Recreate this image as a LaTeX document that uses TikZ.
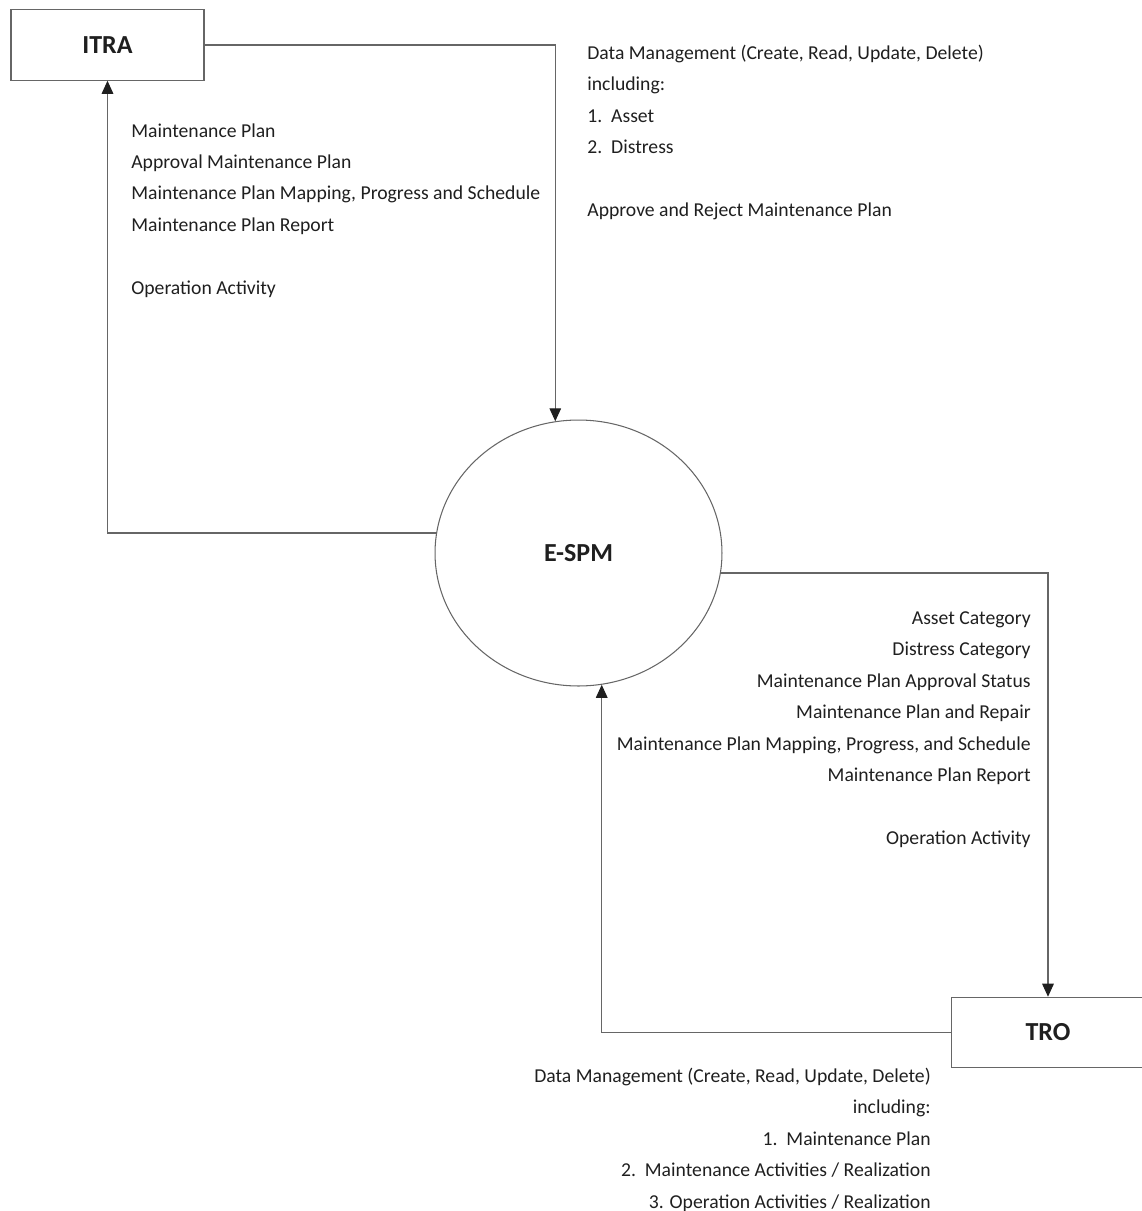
\documentclass[tikz,border=0pt]{standalone}
\usepackage{fontspec}
\setmainfont{Carlito}
\usetikzlibrary{positioning,shapes.geometric,arrows.meta}
\definecolor{linegray}{gray}{0.4}
\definecolor{txtgray}{gray}{0.12}

\begin{document}
\begin{tikzpicture}[x=0.02cm,y=-0.02cm,
	entity/.style={draw=linegray,line width=0.6pt,minimum width=3.86cm,minimum height=1.41cm,inner sep=0pt,
		font=\fontsize{14.8}{17}\selectfont\bfseries,text=txtgray},
	proc/.style={ellipse,draw=linegray,line width=0.6pt,minimum width=5.74cm,minimum height=5.32cm,inner sep=0pt,
		font=\fontsize{14.8}{17}\selectfont\bfseries,text=txtgray},
	flow/.style={draw=linegray,line width=0.6pt,-{Triangle[length=7.4pt,width=6.6pt,color=txtgray]}},
	lbl/.style={font=\fontsize{11.2}{13}\selectfont,text=txtgray,inner sep=0pt}]

\useasboundingbox (0,0) rectangle (1142,1211);

\node[entity](itra) at (107.5,45) {ITRA};
\node[entity](tro) at (1048,1032.5) {TRO};
\node[proc](espm) at (578.5,553) {E-SPM};

\draw[flow](itra.east) -| (espm.100);
\draw[flow](espm.172) -| (itra.south);
\draw[flow](espm.-8) -| (tro.north);
\draw[flow](tro.west) -| (espm.-80);

\foreach \y/\t [count=\i] in {137/{Maintenance Plan},168.4/{Approval Maintenance Plan},
	199.8/{Maintenance Plan Mapping, Progress and Schedule},231.2/{Maintenance Plan Report},294/{Operation Activity}}
	\node[lbl,anchor=base west](up\i) at (131,\y) {\t};

\foreach \y/\t [count=\i] in {59.5/{Data Management (Create, Read, Update, Delete)},90.9/{including:},
	122.3/{1.\ \ Asset},153.7/{2.\ \ Distress},216.5/{Approve and Reject Maintenance Plan}}
	\node[lbl,anchor=base west](down\i) at (587,\y) {\t};

\foreach \y/\t [count=\i] in {624.5/{Asset Category},655.9/{Distress Category},687.3/{Maintenance Plan Approval Status},
	718.7/{Maintenance Plan and Repair},750.1/{Maintenance Plan Mapping, Progress, and Schedule},
	781.5/{Maintenance Plan Report},844.3/{Operation Activity}}
	\node[lbl,anchor=base east](out\i) at (1031,\y) {\t};

\foreach \y/\t [count=\i] in {1082.5/{Data Management (Create, Read, Update, Delete)},1113.9/{including:},
	1145.3/{1.\ \ Maintenance Plan},1176.7/{2.\ \ Maintenance Activities / Realization},
	1208.1/{3. Operation Activities / Realization}}
	\node[lbl,anchor=base east](in\i) at (931,\y) {\t};

\end{tikzpicture}
\end{document}
